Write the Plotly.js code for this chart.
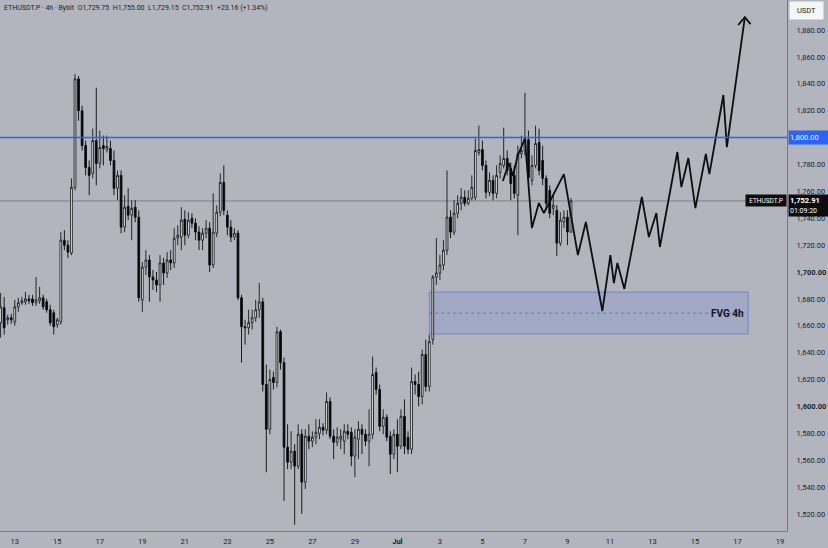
<!DOCTYPE html>
<html><head><meta charset="utf-8">
<script src="https://cdn.plot.ly/plotly-3.0.1.min.js"></script>
<style>html,body{margin:0;padding:0;background:#b2b5bd;} #chart{width:828px;height:548px;}</style>
</head><body><div id="chart"></div>
<script>
// ---- data ----
const firstBar = '2023-06-12T08:00:00Z';
const barHours = 4;
const openP = [1662.3,1673.4,1664.5,1666.0,1663.0,1674.1,1677.1,1677.8,1680.0,1680.0,
1677.1,1678.6,1680.8,1677.8,1671.9,1669.7,1660.8,1663.0,1723.7,1720.0,
1714.1,1763.0,1843.7,1820.0,1794.1,1777.8,1773.4,1797.8,1780.8,1794.1,
1791.1,1791.9,1783.0,1762.3,1771.9,1733.4,1748.9,1742.3,1748.2,1740.8,
1679.3,1703.7,1708.9,1696.3,1694.1,1690.4,1706.7,1699.3,1708.9,1706.7,
1725.2,1726.0,1739.3,1727.4,1740.0,1736.3,1729.7,1723.7,1728.9,1732.6,
1705.2,1728.9,1744.5,1766.7,1742.3,1733.4,1726.0,1728.9,1680.8,1659.3,
1658.5,1662.3,1666.0,1671.9,1677.8,1616.3,1583.0,1621.5,1617.8,1655.6,
1632.6,1569.7,1558.5,1566.7,1555.6,1579.3,1543.7,1577.8,1574.1,1577.1,
1580.0,1584.5,1582.3,1603.7,1577.8,1573.4,1575.6,1574.1,1581.5,1580.8,
1563.0,1575.6,1583.0,1579.3,1574.1,1579.3,1625.2,1612.6,1585.2,1591.9,
1577.8,1564.5,1579.3,1570.4,1592.6,1577.1,1568.2,1618.5,1616.3,1607.4,
1638.6,1614.8,1649.7,1696.3,1699.3,1705.2,1716.3,1740.8,1729.7,1743.7,
1751.1,1755.6,1751.1,1754.8,1755.6,1788.9,1791.1,1779.3,1759.3,1768.2,
1758.5,1774.1,1779.3,1784.5,1777.1,1771.9,1757.1,1788.2,1790.4,1798.5,
1768.2,1779.3,1796.3,1783.0,1769.7,1760.8,1747.4,1745.9,1721.5,1737.1,
1740.8,1729.75];
const highP = [1684.5,1681.5,1668.2,1668.9,1679.3,1680.8,1681.5,1685.2,1683.0,1683.0,
1696.3,1688.9,1683.0,1680.0,1675.6,1671.9,1666.0,1729.7,1731.1,1723.7,
1769.7,1847.4,1845.9,1823.7,1797.8,1783.0,1806.7,1837.1,1805.2,1801.5,
1801.5,1797.8,1790.4,1775.6,1775.6,1757.1,1762.3,1753.4,1753.4,1745.9,
1707.4,1716.3,1712.6,1701.5,1700.0,1712.6,1710.4,1714.8,1716.3,1732.6,
1734.8,1748.2,1745.9,1744.5,1743.7,1740.0,1734.1,1732.6,1738.6,1737.1,
1758.5,1749.7,1773.4,1779.3,1745.9,1738.6,1732.6,1731.1,1683.0,1664.5,
1671.9,1671.9,1679.3,1691.9,1680.8,1631.1,1627.4,1625.9,1659.3,1657.1,
1636.3,1586.7,1581.5,1571.9,1586.7,1583.0,1583.0,1586.7,1581.5,1590.4,
1590.4,1587.4,1610.4,1606.7,1583.0,1584.5,1583.0,1586.7,1586.7,1584.5,
1583.0,1588.9,1586.7,1583.0,1597.8,1637.1,1628.9,1616.3,1597.8,1594.1,
1581.5,1583.0,1590.4,1597.8,1605.2,1581.5,1628.9,1623.7,1625.9,1642.3,
1649.7,1653.4,1697.8,1725.2,1712.6,1723.7,1775.6,1745.9,1753.4,1757.1,
1762.3,1760.8,1760.8,1771.9,1799.3,1808.9,1797.8,1783.0,1774.1,1771.9,
1779.3,1786.7,1807.4,1790.4,1781.5,1779.3,1794.1,1801.5,1833.4,1805.2,
1786.7,1808.9,1806.7,1794.1,1771.9,1764.5,1757.1,1749.7,1744.5,1745.9,
1745.9,1755.00];
const lowP = [1651.1,1653.4,1660.8,1661.5,1660.0,1670.4,1675.6,1675.6,1676.3,1674.8,
1674.8,1676.3,1671.9,1669.7,1660.0,1653.4,1658.5,1660.8,1716.3,1710.4,
1712.6,1760.8,1812.6,1790.4,1771.9,1757.1,1769.7,1764.5,1777.1,1779.3,
1788.9,1779.3,1757.1,1753.4,1728.9,1729.7,1738.6,1723.7,1737.1,1677.8,
1670.4,1697.8,1677.8,1686.7,1685.2,1677.8,1690.4,1695.6,1701.5,1703.0,
1720.0,1716.3,1720.0,1725.2,1732.6,1723.7,1716.3,1716.3,1725.2,1700.0,
1703.0,1726.0,1741.5,1742.3,1727.4,1722.3,1723.7,1679.3,1632.6,1646.0,
1653.4,1657.1,1663.0,1666.0,1611.1,1551.1,1579.3,1612.6,1614.1,1627.4,
1529.7,1553.4,1553.4,1512.0,1553.4,1520.0,1538.5,1568.2,1569.7,1571.9,
1575.6,1578.6,1579.3,1575.6,1560.8,1570.4,1568.2,1564.5,1575.6,1555.6,
1547.4,1560.8,1564.5,1570.4,1555.6,1575.6,1608.9,1581.5,1579.3,1574.1,
1549.7,1560.8,1551.1,1568.2,1564.5,1564.5,1564.5,1608.9,1600.0,1601.5,
1611.1,1611.1,1646.0,1690.4,1694.1,1701.5,1712.6,1725.2,1727.4,1740.0,
1745.9,1748.9,1749.7,1753.4,1753.4,1786.7,1775.6,1754.8,1756.3,1753.4,
1754.8,1769.7,1777.1,1771.9,1753.4,1754.8,1727.4,1784.5,1786.7,1764.5,
1764.5,1777.1,1771.9,1764.5,1745.9,1740.0,1742.3,1711.9,1719.3,1732.6,
1720.0,1729.15];
const closeP = [1674.1,1658.5,1666.0,1664.5,1674.1,1677.1,1678.6,1680.0,1678.6,1677.1,
1679.3,1680.8,1674.1,1671.9,1662.3,1659.3,1664.5,1723.7,1720.0,1714.8,
1763.0,1843.7,1820.0,1794.1,1777.8,1771.9,1797.8,1780.8,1792.6,1791.9,
1793.4,1783.0,1762.3,1771.9,1733.4,1748.2,1742.3,1747.4,1740.8,1680.8,
1703.7,1708.9,1696.3,1694.1,1690.4,1706.7,1699.3,1708.9,1706.7,1725.2,
1727.4,1738.6,1727.4,1738.6,1736.3,1729.7,1723.7,1728.9,1732.6,1705.2,
1729.7,1744.5,1766.7,1745.9,1733.4,1726.0,1728.9,1680.8,1659.3,1658.5,
1662.3,1666.0,1671.9,1677.8,1616.3,1583.0,1620.0,1617.8,1655.6,1632.6,
1569.7,1558.5,1566.7,1555.6,1579.3,1543.7,1577.8,1574.1,1577.1,1580.8,
1584.5,1582.3,1603.7,1577.8,1573.4,1577.1,1577.8,1581.5,1579.3,1563.0,
1577.1,1583.0,1579.3,1574.1,1579.3,1623.7,1612.6,1585.2,1591.9,1577.1,
1564.5,1579.3,1570.4,1592.6,1570.4,1568.2,1618.5,1616.3,1607.4,1638.6,
1614.8,1648.2,1696.3,1699.3,1705.2,1716.3,1740.8,1729.7,1743.7,1751.1,
1755.6,1751.1,1754.8,1763.0,1790.4,1791.1,1779.3,1759.3,1768.2,1758.5,
1771.9,1780.8,1784.5,1775.6,1765.9,1758.5,1788.2,1790.4,1799.3,1770.4,
1779.3,1795.6,1775.6,1769.7,1751.1,1743.7,1749.7,1721.5,1738.6,1740.8,
1729.75,1752.91];

const resistanceLevel = 1800;
const lastPrice = 1752.91;
const fvgStart = '2023-07-02 12:00';
const fvgEnd = '2023-07-17 12:00';
const fvgTop = 1685.1;
const fvgBottom = 1653.9;
const fvgMid = 1669.5;

const pathTimes = ['2023-07-05 23:07','2023-07-06 05:53','2023-07-06 10:25','2023-07-06 16:03','2023-07-07 00:00',
 '2023-07-07 07:51','2023-07-07 15:46','2023-07-07 21:24','2023-07-08 20:00','2023-07-09 11:47',
 '2023-07-09 20:49','2023-07-10 15:26','2023-07-11 00:29','2023-07-11 04:26','2023-07-11 08:23',
 '2023-07-11 16:16','2023-07-12 12:01','2023-07-12 19:56','2023-07-13 04:24','2023-07-13 08:21',
 '2023-07-14 04:06','2023-07-14 08:37','2023-07-14 16:32','2023-07-15 00:26','2023-07-15 12:17',
 '2023-07-15 16:14','2023-07-16 08:02','2023-07-16 12:00','2023-07-17 08:19'];
const pathPrices = [1767.7,1781.1,1771.4,1787.1,1799.0,
 1732.7,1751.3,1743.9,1772.9,1712.6,
 1737.2,1671.0,1712.6,1691.8,1706.7,
 1687.4,1755.8,1726.0,1743.9,1718.6,
 1789.3,1763.2,1784.8,1747.6,1787.8,
 1772.9,1831.7,1792.9,1889.7];
const arrowTimes = ['2023-07-17 00:45','2023-07-17 08:19','2023-07-17 14:46'];
const arrowPrices = [1883.8,1889.7,1884.5];

const xTickVals = ['2023-06-13','2023-06-15','2023-06-17','2023-06-19','2023-06-21','2023-06-23','2023-06-25',
 '2023-06-27','2023-06-29','2023-07-01','2023-07-03','2023-07-05','2023-07-07','2023-07-09','2023-07-11',
 '2023-07-13','2023-07-15','2023-07-17','2023-07-19'];
const xTickText = ['13','15','17','19','21','23','25','27','29','<b>Jul</b>','3','5','7','9','11','13','15','17','19'];
// 1,800.00 is shown by the blue level tag instead of a plain tick label
const yTickVals = [1520,1540,1560,1580,1600,1620,1640,1660,1680,1700,1720,1740,1760,1780,1820,1840,1860,1880];
const yTickText = ['1,520.00','1,540.00','1,560.00','1,580.00','<b>1,600.00</b>','1,620.00','1,640.00','1,660.00','1,680.00',
 '<b>1,700.00</b>','1,720.00','1,740.00','1,760.00','1,780.00','1,820.00','1,840.00','1,860.00','1,880.00'];

const headerText = 'ETHUSDT.P · 4h · Bybit  O1,729.75  H1,755.00  L1,729.15  C1,752.91  +23.16 (+1.34%)';

// ---- build ----
const t0 = Date.parse(firstBar);
const candleTimes = openP.map((_, i) => new Date(t0 + i * barHours * 3600e3).toISOString().slice(0, 19).replace('T', ' '));

const BG = '#b2b5bd';
const INK = '#1c1f26';
const FONT = 'Roboto, "Liberation Sans", sans-serif';

const traces = [
  {
    type: 'candlestick', x: candleTimes, open: openP, high: highP, low: lowP, close: closeP,
    increasing: {line: {color: '#16181d', width: 0.9}, fillcolor: '#ffffff'},
    decreasing: {line: {color: '#0a0b0d', width: 0.9}, fillcolor: '#000000'},
    whiskerwidth: 0, showlegend: false, hoverinfo: 'skip'
  },
  {
    type: 'scatter', mode: 'lines', x: pathTimes, y: pathPrices,
    line: {color: '#0d0e12', width: 1.8}, showlegend: false, hoverinfo: 'skip'
  },
  {
    type: 'scatter', mode: 'lines', x: arrowTimes, y: arrowPrices,
    line: {color: '#0d0e12', width: 1.8}, showlegend: false, hoverinfo: 'skip'
  }
];

const layout = {
  width: 828, height: 548,
  margin: {l: 0, r: 41, t: 0, b: 17, pad: 0},
  paper_bgcolor: BG, plot_bgcolor: BG,
  font: {family: FONT, color: INK, size: 8},
  showlegend: false,
  xaxis: {
    type: 'date', range: ['2023-06-12 07:18', '2023-07-19 07:54'],
    rangeslider: {visible: false},
    tickmode: 'array', tickvals: xTickVals, ticktext: xTickText,
    showgrid: false, zeroline: false, ticks: '',
    showline: true, linecolor: 'rgba(90,94,104,0.6)', linewidth: 1,
    tickfont: {size: 7.5, color: INK}, ticklabelstandoff: 3, fixedrange: true
  },
  yaxis: {
    side: 'right', range: [1507.3, 1902.4],
    tickmode: 'array', tickvals: yTickVals, ticktext: yTickText,
    showgrid: false, zeroline: false, ticks: '',
    showline: true, linecolor: 'rgba(90,94,104,0.7)', linewidth: 1,
    tickfont: {size: 7.5, color: INK}, ticklabelstandoff: 7, fixedrange: true
  },
  shapes: [
    {type: 'rect', xref: 'x', yref: 'y', x0: fvgStart, x1: fvgEnd, y0: fvgBottom, y1: fvgTop,
     fillcolor: 'rgba(80,105,240,0.16)', line: {color: 'rgba(70,95,210,0.5)', width: 1}, layer: 'below'},
    {type: 'line', xref: 'x', yref: 'y', x0: fvgStart, x1: fvgEnd, y0: fvgMid, y1: fvgMid,
     line: {color: 'rgba(70,90,180,0.6)', width: 1, dash: 'dot'}, layer: 'below'},
    {type: 'line', xref: 'paper', yref: 'y', x0: 0, x1: 1, y0: lastPrice, y1: lastPrice,
     line: {color: 'rgba(105,108,118,0.7)', width: 1}, layer: 'below'},
    {type: 'line', xref: 'paper', yref: 'y', x0: 0, x1: 1, y0: resistanceLevel, y1: resistanceLevel,
     line: {color: '#2962ff', width: 1.5}}
  ],
  annotations: [
    {xref: 'paper', yref: 'paper', x: 0.002, y: 0.997, xanchor: 'left', yanchor: 'top', showarrow: false,
     text: headerText, font: {size: 7, color: INK}},
    {xref: 'paper', yref: 'paper', x: 1.0245, y: 0.980, xanchor: 'center', yanchor: 'middle', showarrow: false,
     text: 'USDT', font: {size: 7.5, color: INK}, bgcolor: '#f4f5f7', borderpad: 3, width: 27, height: 11},
    {xref: 'paper', yref: 'y', x: 1.0013, y: resistanceLevel, xanchor: 'left', yanchor: 'middle', showarrow: false,
     text: '1,800.00', font: {size: 7.5, color: '#ffffff'}, bgcolor: '#2962ff', borderpad: 1, width: 37, height: 11, align: 'left'},
    {xref: 'paper', yref: 'paper', x: 1.0013, y: 0.613, xanchor: 'left', yanchor: 'middle', showarrow: false,
     text: '<b>1,752.91</b><br><span style="font-size:7px">01:09:20</span>', font: {size: 7.5, color: '#ffffff'},
     bgcolor: '#0b0c0f', borderpad: 1, width: 37, height: 19, align: 'left'},
    {xref: 'paper', yref: 'y', x: 0.9995, y: lastPrice, xanchor: 'right', yanchor: 'middle', showarrow: false,
     text: 'ETHUSDT.P', font: {size: 6.5, color: '#ffffff'}, bgcolor: '#0b0c0f', borderpad: 1, width: 38, height: 9},
    {xref: 'x', yref: 'y', x: '2023-07-16 13:00', y: fvgMid, xanchor: 'center', yanchor: 'middle', showarrow: false,
     text: '<b>FVG 4h</b>', font: {size: 10, color: '#14161b'}}
  ]
};

Plotly.newPlot('chart', traces, layout, {staticPlot: true, displayModeBar: false});
</script>
</body></html>
